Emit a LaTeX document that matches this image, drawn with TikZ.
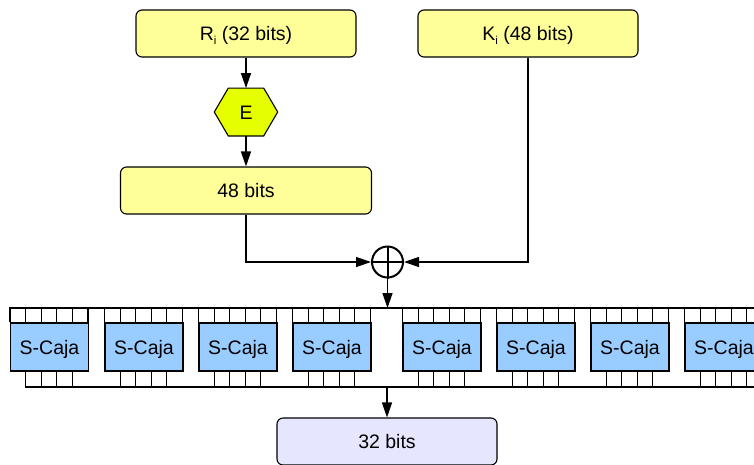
\documentclass[tikz,border=0pt]{standalone}
\usepackage{fontspec}
\setmainfont{Liberation Sans}
\usetikzlibrary{arrows.meta,calc}
\definecolor{boxyellow}{HTML}{FFFF99}
\definecolor{hexyellow}{HTML}{E6FF00}
\definecolor{sblue}{HTML}{99CCFF}
\definecolor{lav}{HTML}{E6E6FF}
\newcommand{\subi}{\raisebox{-0.35ex}{\fontsize{11.5}{11.5}\selectfont i}}
\tikzset{
  txt/.style={font=\fontsize{19.5}{21}\selectfont, text height=14pt, text depth=0pt},
  ybox/.style={txt, draw=black, line width=1.1pt, fill=boxyellow, rounded corners=6pt,
    minimum height=47pt, inner sep=0pt},
  sbox/.style={txt, draw=black, line width=1.1pt, fill=sblue, minimum width=78pt,
    minimum height=48pt, inner sep=0pt},
  hexnode/.style={txt, minimum width=63pt, minimum height=47.5pt, inner sep=0pt},
  hexline/.style={draw=black, line width=1.1pt, fill=hexyellow},
  xornode/.style={draw=black, line width=2pt, circle, minimum size=31pt, inner sep=0pt},
  conn/.style={line width=1.3pt},
  arr/.style={conn, -{Triangle[length=15pt,width=10pt]}},
  cell/.style={line width=1.1pt},
}
\begin{document}
\begin{tikzpicture}[x=1pt,y=-1pt]
\clip (0,0) rectangle (754,464);
\fill[white] (0,0) rectangle (754,464);
% top boxes
\node[ybox, minimum width=220pt] (ri) at (246,33.5) {R\subi{} (32 bits)};
\node[ybox, minimum width=220pt] (ki) at (528,33.5) {K\subi{} (48 bits)};
\node[hexnode] (e) at (246,112) {};
\draw[hexline] (e.west) -- ($(e.north west)+(14,0)$) -- ($(e.north east)+(-14,0)$)
  -- (e.east) -- ($(e.south east)+(-14,0)$) -- ($(e.south west)+(14,0)$) -- cycle;
\node[hexnode] at (e.center) {E};
\node[ybox, minimum width=251pt] (b48) at (246,190.5) {48 bits};
\node[xornode] (xor) at (387.5,262) {};
\draw[line width=2pt] (xor.north) -- (xor.south) (xor.west) -- (xor.east);
\node[ybox, fill=lav, minimum width=220pt] (b32) at (387,441.5) {32 bits};
% connectors
\draw[arr] (ri.south) -- (e.north);
\draw[arr] (e.south) -- (b48.north);
\draw[arr] (b48.south) |- (xor.west);
\draw[arr] (ki.south) |- (xor.east);
\coordinate (tbusL) at (10,308);
\coordinate (tbusR) at (754,308);
\coordinate (bbusL) at (26,387);
\coordinate (bbusR) at (754,387);
\coordinate (tbusM) at (387.5,308);
\coordinate (bbusM) at (387,387);
\draw[arr] (xor.south) -- (tbusM);
\draw[arr] (bbusM) -- (b32.north);
\draw[conn] (tbusL) -- (tbusR);
\draw[conn] (bbusL) -- (bbusR);
% S-boxes
\foreach \n/\x in {1/49.5,2/144,3/238,4/332,5/442,6/536,7/630,8/724}{
  \node[sbox] (s\n) at (\x,347) {S-Caja};
  \foreach \k in {0,...,5}{
    \draw[cell] ($(s\n.north west)+(\k*15.6,0)$) -- ++(0,-15);
  }
  \foreach \k in {1,...,4}{
    \draw[cell] ($(s\n.south west)+(\k*15.6,0)$) -- ++(0,16);
  }
}
\end{tikzpicture}
\end{document}
